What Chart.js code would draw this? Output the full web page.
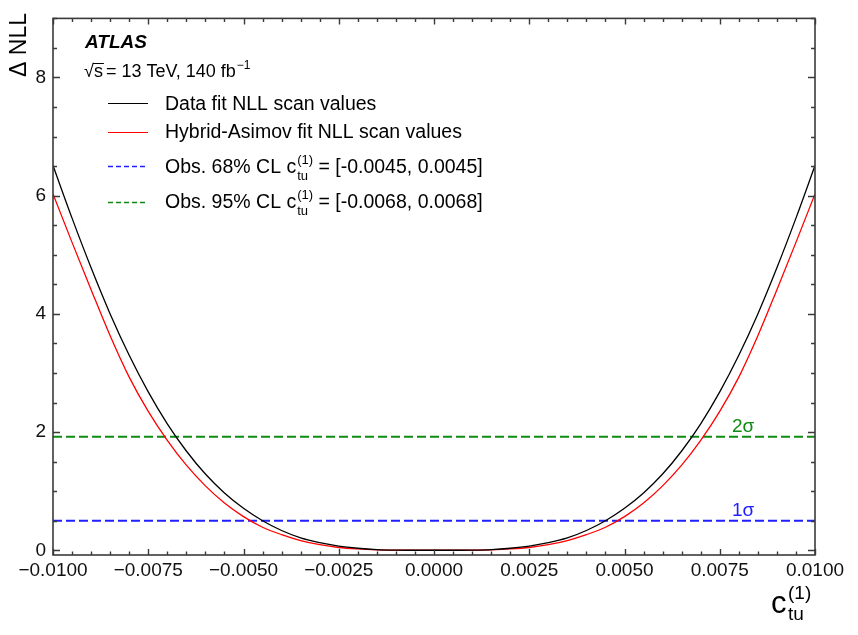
<!DOCTYPE html>
<html>
<head>
<meta charset="utf-8">
<script src="https://cdn.jsdelivr.net/npm/chart.js@4"></script>
<style>
  body { margin: 0; background: #fff; }
  canvas { display: block; }
</style>
</head>
<body>
<canvas id="myChart" width="858" height="635"></canvas>
<script>
// scan points in c_tu^(1)
const ctu = [
  -0.0100, -0.0095, -0.0090, -0.0085, -0.0080, -0.0075, -0.0070, -0.0065, -0.0060, -0.0055,
  -0.0050, -0.0045, -0.0040, -0.0035, -0.0030, -0.0025, -0.0020, -0.0015, -0.0010, -0.0005,
   0.0000,
   0.0005,  0.0010,  0.0015,  0.0020,  0.0025,  0.0030,  0.0035,  0.0040,  0.0045,  0.0050,
   0.0055,  0.0060,  0.0065,  0.0070,  0.0075,  0.0080,  0.0085,  0.0090,  0.0095,  0.0100
];

// delta NLL, data fit
const dataNLL = [
  6.51, 5.62, 4.78, 4.00, 3.30, 2.68, 2.14, 1.68, 1.29, 0.97,
  0.71, 0.50, 0.335, 0.21, 0.128, 0.070, 0.034, 0.012, 0.003, 0.0003,
  0.0,
  0.0003, 0.003, 0.012, 0.034, 0.070, 0.128, 0.21, 0.335, 0.50, 0.71,
  0.97, 1.29, 1.68, 2.14, 2.68, 3.30, 4.00, 4.78, 5.62, 6.51
];

// delta NLL, hybrid-Asimov fit
const asimovNLL = [
  6.03, 5.21, 4.41, 3.63, 2.93, 2.35, 1.86, 1.44, 1.09, 0.80,
  0.57, 0.39, 0.265, 0.165, 0.095, 0.047, 0.022, 0.008, 0.002, 0.0002,
  0.0,
  0.0002, 0.002, 0.008, 0.022, 0.047, 0.095, 0.165, 0.265, 0.39, 0.57,
  0.80, 1.09, 1.44, 1.86, 2.35, 2.93, 3.63, 4.41, 5.21, 6.03
];

const nll1sigma = 0.5;
const nll2sigma = 1.92;
const cl68 = ['-0.0045', '0.0045'];
const cl95 = ['-0.0068', '0.0068'];
const xRange = [-0.01, 0.01];

const FONT = '"Liberation Sans", Arial, Helvetica, sans-serif';
const BLUE = '#1f1fff';
const GREEN = '#0f8a12';

function pts(ys) {
  return ctu.map((x, i) => ({ x: x, y: ys[i] }));
}
function hline(v) {
  return [{ x: xRange[0], y: v }, { x: xRange[1], y: v }];
}

// draws the inward ticks, frame, axis titles, legend and sigma labels
const atlasStyle = {
  id: 'atlasStyle',
  afterDatasetsDraw(chart) {
    const { ctx, chartArea: a, scales: { x, y } } = chart;
    ctx.save();
    ctx.strokeStyle = '#3a3a3a';
    ctx.lineWidth = 1.4;
    ctx.beginPath();
    for (let k = -20; k <= 20; k++) {
      const px = Math.round(x.getPixelForValue(k * 0.0005)) + 0.5;
      const len = k % 5 === 0 ? 6 : 3.5;
      ctx.moveTo(px, a.bottom); ctx.lineTo(px, a.bottom - len);
      ctx.moveTo(px, a.top); ctx.lineTo(px, a.top + len);
    }
    for (let k = 0; k <= 18; k++) {
      const py = Math.round(y.getPixelForValue(k * 0.5)) + 0.5;
      const len = k % 4 === 0 ? 7 : 4;
      ctx.moveTo(a.left, py); ctx.lineTo(a.left + len, py);
      ctx.moveTo(a.right, py); ctx.lineTo(a.right - len, py);
    }
    ctx.stroke();
    ctx.lineWidth = 1.6;
    ctx.strokeRect(a.left, a.top, a.right - a.left, a.bottom - a.top);

    // sigma labels
    ctx.font = '19px ' + FONT;
    ctx.textAlign = 'left';
    ctx.textBaseline = 'alphabetic';
    ctx.fillStyle = GREEN;
    ctx.fillText('2σ', 732, y.getPixelForValue(nll2sigma) - 5);
    ctx.fillStyle = BLUE;
    ctx.fillText('1σ', 732, y.getPixelForValue(nll1sigma) - 5);
    ctx.restore();
  },
  afterDraw(chart) {
    const { ctx } = chart;
    const ds = chart.data.datasets;
    ctx.save();
    ctx.fillStyle = '#000';
    ctx.textBaseline = 'alphabetic';

    // y title
    ctx.save();
    ctx.translate(26, 13);
    ctx.rotate(-Math.PI / 2);
    ctx.textAlign = 'right';
    ctx.font = '23px ' + FONT;
    ctx.fillText('Δ NLL', 0, 0);
    ctx.restore();

    // x title
    ctx.textAlign = 'left';
    ctx.font = '31px ' + FONT;
    ctx.fillText('c', 771, 613);
    ctx.font = '19px ' + FONT;
    ctx.fillText('tu', 788, 620);
    ctx.fillText('(1)', 788, 599);

    // ATLAS label
    ctx.font = 'italic bold 19px ' + FONT;
    ctx.fillText('ATLAS', 85, 48);
    ctx.font = '18px ' + FONT;
    ctx.fillText('√', 84, 77);
    let cx = 84 + ctx.measureText('√').width;
    ctx.fillText('s', cx, 77);
    const sw = ctx.measureText('s').width;
    ctx.beginPath();
    ctx.lineWidth = 1;
    ctx.strokeStyle = '#000';
    ctx.moveTo(cx - 1, 63.5); ctx.lineTo(cx + sw + 1, 63.5);
    ctx.stroke();
    cx += sw + 3;
    ctx.fillText('= 13 TeV, 140 fb', cx, 77);
    cx += ctx.measureText('= 13 TeV, 140 fb').width + 1;
    ctx.font = '12px ' + FONT;
    ctx.fillText('−1', cx, 69);

    // legend rows
    const rows = [
      { set: ds[0], y: 103, base: 110, text: ['Data fit NLL scan values'] },
      { set: ds[1], y: 132, base: 138, text: ['Hybrid-Asimov fit NLL scan values'] },
      { set: ds[2], y: 166, base: 173, text: ['Obs. 68% CL ', ' = [' + cl68[0] + ', ' + cl68[1] + ']'] },
      { set: ds[3], y: 202, base: 208, text: ['Obs. 95% CL ', ' = [' + cl95[0] + ', ' + cl95[1] + ']'] }
    ];
    rows.forEach(r => {
      ctx.beginPath();
      ctx.strokeStyle = r.set.borderColor;
      ctx.lineWidth = r.set.borderDash ? 1.6 : 1.2;
      ctx.setLineDash(r.set.borderDash ? [5, 3] : []);
      ctx.moveTo(108, r.y + 0.5); ctx.lineTo(148, r.y + 0.5);
      ctx.stroke();
      ctx.setLineDash([]);
      ctx.fillStyle = '#000';
      ctx.font = '19.5px ' + FONT;
      let tx = 165;
      ctx.fillText(r.text[0], tx, r.base);
      tx += ctx.measureText(r.text[0]).width;
      if (r.text.length > 1) {
        ctx.fillText('c', tx, r.base);
        tx += ctx.measureText('c').width + 1;
        ctx.font = '13px ' + FONT;
        ctx.fillText('tu', tx, r.base + 7);
        ctx.fillText('(1)', tx, r.base - 9);
        tx += Math.max(ctx.measureText('tu').width, ctx.measureText('(1)').width);
        ctx.font = '19.5px ' + FONT;
        ctx.fillText(r.text[1], tx, r.base);
      }
    });
    ctx.restore();
  }
};

new Chart(document.getElementById('myChart'), {
  type: 'line',
  data: {
    datasets: [
      { label: 'Data fit NLL scan values', data: pts(dataNLL), borderColor: '#000', borderWidth: 1.3,
        pointRadius: 0, cubicInterpolationMode: 'monotone', fill: false, order: 1 },
      { label: 'Hybrid-Asimov fit NLL scan values', data: pts(asimovNLL), borderColor: '#ff0000', borderWidth: 1.3,
        pointRadius: 0, cubicInterpolationMode: 'monotone', fill: false, order: 2 },
      { label: 'Obs. 68% CL', data: hline(nll1sigma), borderColor: BLUE, borderWidth: 2,
        borderDash: [9, 4], pointRadius: 0, fill: false, order: 3 },
      { label: 'Obs. 95% CL', data: hline(nll2sigma), borderColor: GREEN, borderWidth: 2,
        borderDash: [9, 4], pointRadius: 0, fill: false, order: 4 }
    ]
  },
  options: {
    responsive: false,
    animation: false,
    layout: { padding: { top: 12, right: 43, left: 0, bottom: 0 } },
    plugins: { legend: { display: false }, tooltip: { enabled: false } },
    scales: {
      x: {
        type: 'linear',
        min: xRange[0],
        max: xRange[1],
        afterFit: s => { s.height = 80; },
        grid: { display: false, drawTicks: false },
        border: { display: false },
        ticks: {
          stepSize: 0.0025,
          padding: 4,
          color: '#111',
          font: { family: FONT, size: 19 },
          maxRotation: 0,
          callback: v => (v < -1e-9 ? '\u2212' : '') + Math.abs(v).toFixed(4)
        }
      },
      y: {
        type: 'linear',
        min: -0.08,
        max: 9,
        afterFit: s => { s.width = 53; },
        grid: { display: false, drawTicks: false },
        border: { display: false },
        ticks: {
          stepSize: 2,
          includeBounds: false,
          padding: 7,
          color: '#111',
          font: { family: FONT, size: 19 }
        }
      }
    }
  },
  plugins: [atlasStyle]
});
</script>
</body>
</html>
